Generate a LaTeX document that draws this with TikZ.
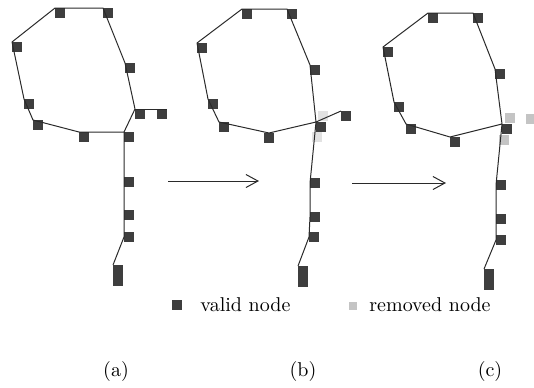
\documentclass[tikz,border=0pt]{standalone}
\usetikzlibrary{arrows.meta}
\definecolor{nodegray}{HTML}{3E3E3E}
\definecolor{remgray}{HTML}{C4C4C4}
\definecolor{fadegray}{HTML}{E2E2E2}
\definecolor{linegray}{HTML}{2A2A2A}
\tikzset{
  vnode/.style={fill=nodegray, draw=none, minimum size=5pt, inner sep=0pt, outer sep=0pt, anchor=north west},
  tallnode/.style={vnode, minimum width=5pt, minimum height=10.5pt},
  rnode/.style={fill=remgray, draw=none, minimum size=5pt, inner sep=0pt, outer sep=0pt},
  fnode/.style={rnode, fill=fadegray},
  route/.style={draw=linegray, line width=0.5pt, line join=round},
  flow/.style={draw=linegray, line width=0.5pt, -{Straight Barb[length=6pt,width=6.5pt]}},
  legendtext/.style={anchor=base west, inner sep=0pt, font=\normalsize},
  caption/.style={inner sep=0pt, font=\normalsize}
}
\begin{document}
\begin{tikzpicture}[x=0.5pt, y=-0.5pt]
\useasboundingbox (0,0) rectangle (534,387);

% ---------- (a) original network ----------
\node[vnode] (a-t1) at (55,8) {};
\node[vnode] (a-t2) at (103,8) {};
\node[vnode] (a-r1) at (125,63) {};
\node[vnode] (a-p1) at (135,109) {};
\node[vnode] (a-p2) at (157,109) {};
\node[vnode] (a-j)  at (124,132) {};
\node[vnode] (a-b1) at (79,132) {};
\node[vnode] (a-l3) at (33,120) {};
\node[vnode] (a-l2) at (24,99) {};
\node[vnode] (a-lf) at (12,42) {};
\node[vnode, anchor=west] (a-v1) at (124,182) {};
\node[vnode, anchor=west] (a-v2) at (124,215) {};
\node[vnode, anchor=west] (a-v3) at (124,237) {};
\node[tallnode] (a-bt) at (113,265) {};
\draw[route] (a-t1.north west) -- (a-t2.north west) -- (a-r1.north west)
  -- (a-p1.north west) -- (a-j.north west) -- (a-b1.north west)
  -- (a-l3.north west) -- (a-l2.north west) -- (a-lf.north west) -- cycle;
\draw[route] (a-p1.north west) -- (a-p2.north east);
\draw[route] (a-j.north west) -- (a-v1.west) -- (a-v2.west) -- (a-v3.west) -- (a-bt.north west);

% ---------- (b) after first step ----------
\node[fnode] (b-f1) at (323,116) {};
\node[fnode] (b-f2) at (317,137) {};
\node[vnode] (b-t1) at (242,9) {};
\node[vnode] (b-t2) at (287,9) {};
\node[vnode] (b-r1) at (310,65) {};
\node[vnode] (b-j)  at (316,122) {};
\node[vnode] (b-rt) at (341,111) {};
\node[vnode, anchor=north] (b-b1) at (269,133) {};
\node[vnode] (b-l3) at (219,122) {};
\node[vnode] (b-l2) at (208,99) {};
\node[vnode] (b-lf) at (197,43) {};
\node[vnode, anchor=west] (b-v1) at (310,183) {};
\node[vnode, anchor=west] (b-v2) at (310,217) {};
\node[vnode, anchor=west] (b-v3) at (309,237) {};
\node[tallnode] (b-bt) at (298,266) {};
\draw[route] (b-t1.north west) -- (b-t2.north west) -- (b-r1.north west)
  -- (b-j.north west) -- (b-b1.north) -- (b-l3.north west)
  -- (b-l2.north west) -- (b-lf.north west) -- cycle;
\draw[route] (b-j.north west) -- (b-rt.north west);
\draw[route] (b-j.north west) -- (b-v1.west) -- (b-v2.west) -- (b-v3.west) -- (b-bt.north west);

% ---------- (c) after second step ----------
\node[rnode] (c-x1) at (510,118) {};
\node[rnode] (c-x2) at (531,119) {};
\node[rnode] (c-x3) at (504,140) {};
\node[vnode] (c-t1) at (428,13) {};
\node[vnode] (c-t2) at (473,13) {};
\node[vnode] (c-r1) at (495,69) {};
\node[vnode] (c-j)  at (502,124) {};
\node[vnode] (c-b1) at (450,137) {};
\node[vnode] (c-l3) at (406,124) {};
\node[vnode] (c-l2) at (394,102) {};
\node[vnode] (c-lf) at (383,47) {};
\node[vnode, anchor=west] (c-v1) at (496,185) {};
\node[vnode, anchor=west] (c-v2) at (496,219) {};
\node[vnode, anchor=west] (c-v3) at (496,240) {};
\node[tallnode] (c-bt) at (484,269) {};
\draw[route] (c-t1.north west) -- (c-t2.north west) -- (c-r1.north west)
  -- (c-j.north west) -- (c-b1.north west) -- (c-l3.north west)
  -- (c-l2.north west) -- (c-lf.north west) -- cycle;
\draw[route] (c-j.north west) -- (c-v1.west) -- (c-v2.west) -- (c-v3.west) -- (c-bt.north west);

% ---------- step arrows ----------
\coordinate (s1a) at (168,181);
\coordinate (s1b) at (259,181);
\coordinate (s2a) at (352,183);
\coordinate (s2b) at (446,183);
\draw[flow] (s1a) -- (s1b);
\draw[flow] (s2a) -- (s2b);

% ---------- legend ----------
\node[vnode, anchor=center] (lg-valid) at (177,305) {};
\node[legendtext] (lg-validtxt) at (200,311) {valid node};
\node[rnode, minimum size=4.2pt] (lg-rem) at (353,306) {};
\node[legendtext] (lg-remtxt) at (369,311) {removed node};

% ---------- captions ----------
\node[caption] (cap-a) at (116,371) {(a)};
\node[caption] (cap-b) at (303,371) {(b)};
\node[caption] (cap-c) at (490,371) {(c)};
\end{tikzpicture}
\end{document}
